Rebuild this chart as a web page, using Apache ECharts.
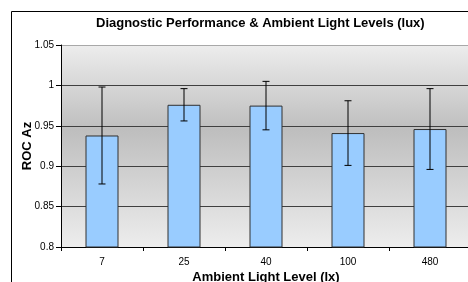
<!DOCTYPE html>
<html><head><meta charset="utf-8">
<script src="https://cdn.jsdelivr.net/npm/echarts@6/dist/echarts.min.js"></script>
<style>html,body{margin:0;padding:0;background:#fff}#c{width:468px;height:282px}</style>
</head><body><div id="c"></div>
<script>
const categories = ['7', '25', '40', '100', '480'];
const rocAz = [0.938, 0.976, 0.975, 0.941, 0.946];
const errLow = [0.878, 0.956, 0.945, 0.901, 0.896];
const errHigh = [0.998, 0.996, 1.005, 0.981, 0.996];
const yTicks = [0.8, 0.85, 0.9, 0.95, 1, 1.05];

const chart = echarts.init(document.getElementById('c'), null, {renderer: 'canvas'});
const font = 'Liberation Sans, Arial, sans-serif';
chart.setOption({
  animation: false,
  backgroundColor: '#ffffff',
  title: {
    text: 'Diagnostic Performance & Ambient Light Levels (lux)',
    left: 96, top: 17, padding: 0,
    textStyle: {fontFamily: font, fontSize: 13, fontWeight: 'bold', color: '#000'}
  },
  graphic: [{
    type: 'rect', z: 100, silent: true,
    shape: {x: 11.5, y: 11.5, width: 520, height: 320},
    style: {fill: 'none', stroke: '#000', lineWidth: 1}
  }],
  grid: {
    left: 61, top: 45, width: 410, height: 202,
    outerBoundsMode: 'none', containLabel: false,
    show: true, borderWidth: 0,
    backgroundColor: {
      type: 'linear', x: 0, y: 0, x2: 0, y2: 1,
      colorStops: [
        {offset: 0, color: '#ededed'},
        {offset: 0.42, color: '#bebebe'},
        {offset: 1, color: '#ededed'}
      ]
    }
  },
  xAxis: {
    type: 'category', data: categories,
    name: 'Ambient Light Level (lx)', nameLocation: 'middle', nameGap: 24, nameMoveOverlap: false,
    nameTextStyle: {fontFamily: font, fontSize: 13, fontWeight: 'bold', color: '#000'},
    axisLine: {lineStyle: {color: '#000', width: 1}},
    axisTick: {show: true, length: 4, inside: false, lineStyle: {color: '#000'}},
    axisLabel: {fontFamily: font, fontSize: 10, color: '#000', margin: 10}
  },
  yAxis: {
    type: 'value', min: 0.8, max: 1.05, interval: 0.05,
    name: 'ROC Az', nameLocation: 'middle', nameGap: 27, nameRotate: 90, nameMoveOverlap: false,
    nameTextStyle: {fontFamily: font, fontSize: 13, fontWeight: 'bold', color: '#000'},
    axisLine: {show: true, lineStyle: {color: '#000', width: 1}},
    axisTick: {show: true, length: 5, lineStyle: {color: '#000'}},
    axisLabel: {fontFamily: font, fontSize: 10, color: '#000', margin: 7,
      formatter: v => String(parseFloat(v.toFixed(2)))},
    splitLine: {show: true, lineStyle: {color: ['#404040','#404040','#404040','#404040','#404040','#a8a8a8'], width: 1}}
  },
  series: [{
    type: 'bar', data: rocAz, barWidth: 33,
    itemStyle: {color: '#99ccff', borderColor: '#303030', borderWidth: 1}
  }, {
    type: 'custom', z: 10,
    data: categories.map((c, i) => [i, errLow[i], errHigh[i]]),
    renderItem: function (params, api) {
      const x = api.value(0);
      const lo = api.coord([x, api.value(1)]);
      const hi = api.coord([x, api.value(2)]);
      const w = 3.5;
      const st = {stroke: '#000', lineWidth: 1};
      return {type: 'group', children: [
        {type: 'line', shape: {x1: lo[0], y1: lo[1], x2: hi[0], y2: hi[1]}, style: st},
        {type: 'line', shape: {x1: lo[0]-w, y1: lo[1], x2: lo[0]+w, y2: lo[1]}, style: st},
        {type: 'line', shape: {x1: hi[0]-w, y1: hi[1], x2: hi[0]+w, y2: hi[1]}, style: st}
      ]};
    }
  }]
});
</script></body></html>
